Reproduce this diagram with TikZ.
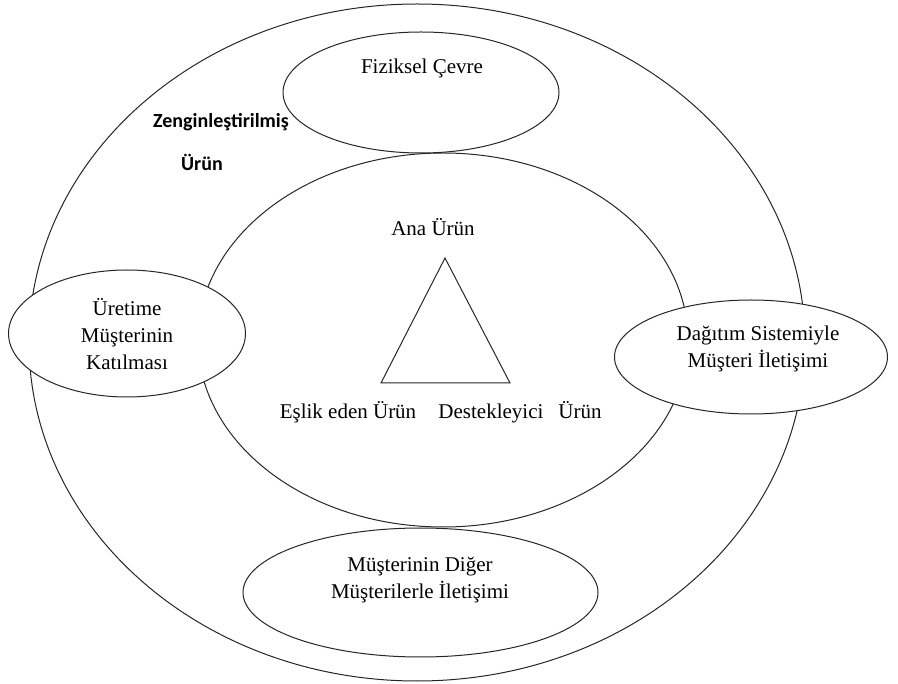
\documentclass[tikz,border=0pt]{standalone}
\usepackage{fontspec}
\setmainfont{Liberation Serif}
\newfontfamily\boldsans{Carlito}
\usetikzlibrary{shapes.geometric}
\begin{document}
\begin{tikzpicture}[x=1pt,y=-1pt,
  ring/.style={draw=black!85,line width=1pt},
  bubble/.style={ellipse,draw=black!85,line width=1pt,fill=white,inner sep=0pt},
  lbl/.style={font=\fontsize{21}{27}\selectfont,align=center,inner sep=0pt},
  tag/.style={font=\boldsans\bfseries\fontsize{20}{24}\selectfont,inner sep=0pt}]
\useasboundingbox (0,0) rectangle (898,684);
% enriched product ring and core product ring
\node[ring,ellipse,minimum width=776pt,minimum height=677pt,inner sep=0pt] (outer) at (417,342.5) {};
\node[ring,ellipse,minimum width=490pt,minimum height=374pt,inner sep=0pt] (inner) at (443,340) {};
% product triangle
\coordinate (apex) at (445,258);
\coordinate (bl) at (381,383);
\coordinate (br) at (510,383);
\draw[ring,line join=miter] (apex) -- (bl) -- (br) -- cycle;
% surrounding elements
\node[bubble,minimum width=276pt,minimum height=121pt] (fiz) at (421,92.5) {};
\node[bubble,minimum width=237pt,minimum height=127pt] (left) at (127,333.5) {};
\node[bubble,minimum width=273pt,minimum height=114pt] (right) at (751,357) {};
\node[bubble,minimum width=355pt,minimum height=129pt] (bottom) at (420.5,592.5) {};
% labels
\node[lbl] (tfiz) at (422,68) {Fiziksel Çevre};
\node[tag] (tz1) at (221,122) {Zenginleştirilmiş};
\node[tag] (tz2) at (202,162) {Ürün};
\node[lbl] (tana) at (433,227) {Ana Ürün};
\node[lbl] (tesl) at (348,412) {Eşlik eden Ürün};
\node[lbl] (tdes) at (520,412) {Destekleyici\hspace{15pt}Ürün};
\node[lbl] (tleft) at (127,334.5) {Üretime\\Müşterinin\\Katılması};
\node[lbl] (tright) at (758,348.5) {Dağıtım Sistemiyle\\Müşteri İletişimi};
\node[lbl] (tbottom) at (420,580.5) {Müşterinin Diğer\\Müşterilerle İletişimi};
\end{tikzpicture}
\end{document}
